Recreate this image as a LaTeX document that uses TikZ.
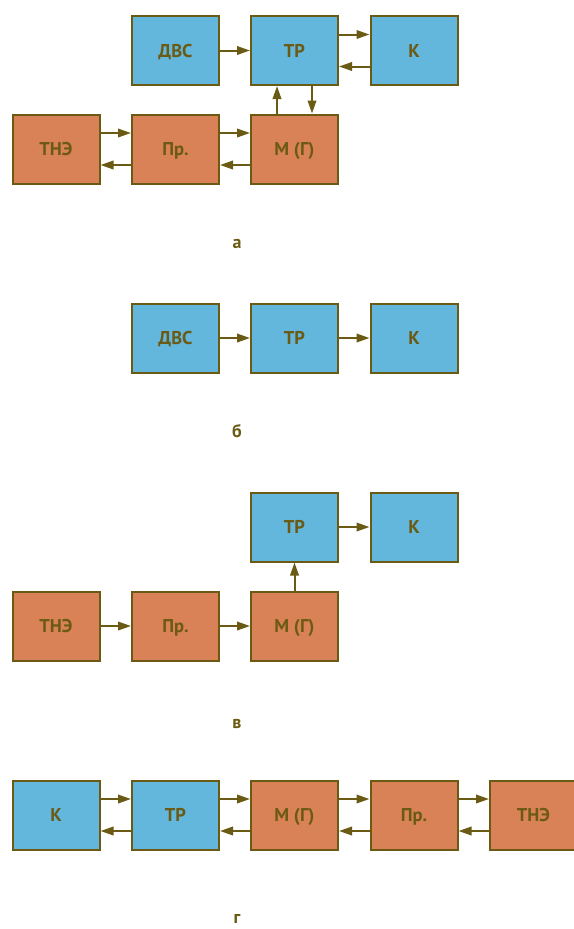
\documentclass[tikz,border=0pt]{standalone}
\usepackage{fontspec}
\setmainfont{PT Sans}
\usetikzlibrary{arrows.meta}
\definecolor{boxblue}{HTML}{63B6DC}
\definecolor{boxorange}{HTML}{D98257}
\definecolor{ink}{HTML}{6B5A14}
\tikzset{
  blk/.style={draw=ink, line width=2pt, minimum width=87pt, minimum height=69pt,
    inner sep=0pt, text=ink, text height=13pt, text depth=0pt,
    font=\bfseries\fontsize{18.5}{18.5}\selectfont},
  bluebox/.style={blk, fill=boxblue},
  orangebox/.style={blk, fill=boxorange},
  conn/.style={draw=ink, line width=2pt, -{Triangle[length=13pt,width=8.5pt]}},
  caption/.style={text=ink, font=\bfseries\fontsize{18}{18}\selectfont, inner sep=0pt}
}
\begin{document}
\begin{tikzpicture}[x=1pt,y=-1pt]
\useasboundingbox (0,0) rectangle (573,929);

% --- scheme а ---
\node[bluebox] (a1) at (175.5,50.5) {ДВС};
\node[bluebox] (a2) at (294.5,50.5) {ТР};
\node[bluebox] (a3) at (414,50.5) {К};
\node[orangebox] (a4) at (56,149) {ТНЭ};
\node[orangebox] (a5) at (175.5,149) {Пр.};
\node[orangebox] (a6) at (294.5,149) {М (Г)};
\draw[conn] (a1) -- (a2);
\draw[conn] ([yshift=16pt]a2.east) -- ([yshift=16pt]a3.west);
\draw[conn] ([yshift=-16pt]a3.west) -- ([yshift=-16pt]a2.east);
\draw[conn] ([xshift=-17.5pt]a6.north) -- ([xshift=-17.5pt]a2.south);
\draw[conn] ([xshift=17.5pt]a2.south) -- ([xshift=17.5pt]a6.north);
\draw[conn] ([yshift=16pt]a4.east) -- ([yshift=16pt]a5.west);
\draw[conn] ([yshift=-16pt]a5.west) -- ([yshift=-16pt]a4.east);
\draw[conn] ([yshift=16pt]a5.east) -- ([yshift=16pt]a6.west);
\draw[conn] ([yshift=-16pt]a6.west) -- ([yshift=-16pt]a5.east);
\node[caption] (la) at (237,243.5) {а};

% --- scheme б ---
\node[bluebox] (b1) at (175.5,338) {ДВС};
\node[bluebox] (b2) at (294.5,338) {ТР};
\node[bluebox] (b3) at (414,338) {К};
\draw[conn] (b1) -- (b2);
\draw[conn] (b2) -- (b3);
\node[caption] (lb) at (237,431) {б};

% --- scheme в ---
\node[bluebox] (c1) at (294.5,527) {ТР};
\node[bluebox] (c2) at (414,527) {К};
\node[orangebox] (c3) at (56,626) {ТНЭ};
\node[orangebox] (c4) at (175.5,626) {Пр.};
\node[orangebox] (c5) at (294.5,626) {М (Г)};
\draw[conn] (c1) -- (c2);
\draw[conn] (c3) -- (c4);
\draw[conn] (c4) -- (c5);
\draw[conn] (c5) -- (c1);
\node[caption] (lc) at (237,724) {в};

% --- scheme г ---
\node[bluebox] (d1) at (56,815) {К};
\node[bluebox] (d2) at (175.5,815) {ТР};
\node[orangebox] (d3) at (294.5,815) {М (Г)};
\node[orangebox] (d4) at (414,815) {Пр.};
\node[orangebox] (d5) at (533.5,815) {ТНЭ};
\foreach \p/\q in {d1/d2,d2/d3,d3/d4,d4/d5}{
  \draw[conn] ([yshift=16pt]\p.east) -- ([yshift=16pt]\q.west);
  \draw[conn] ([yshift=-16pt]\q.west) -- ([yshift=-16pt]\p.east);
}
\node[caption] (ld) at (237,919) {г};
\end{tikzpicture}
\end{document}
